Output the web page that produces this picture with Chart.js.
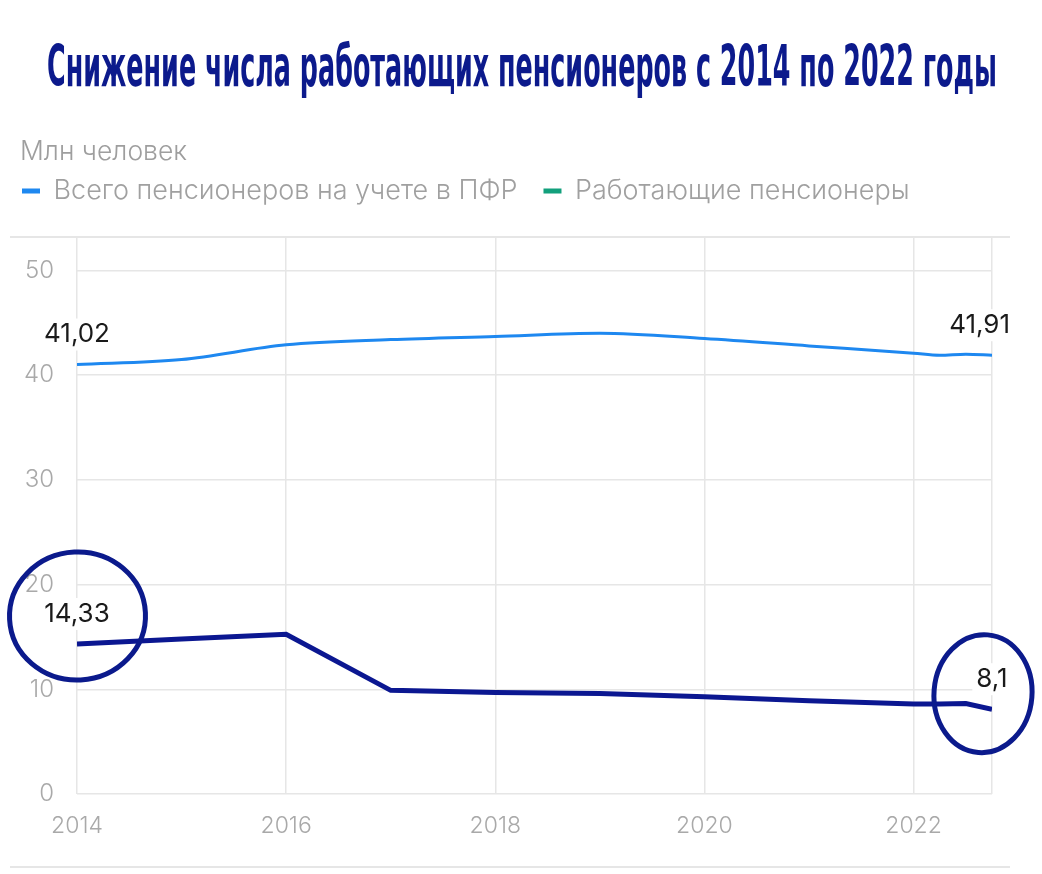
<!DOCTYPE html>
<html lang="ru">
<head>
<meta charset="utf-8">
<script src="https://cdn.jsdelivr.net/npm/chart.js@4.4.1/dist/chart.umd.min.js"></script>
<style>
  html, body { margin: 0; padding: 0; background: #fff; }
  #wrap { position: relative; width: 1042px; height: 874px; overflow: hidden; }
  #title { position: absolute; left: 0; top: 38px; width: 1042px; height: 60px; white-space: nowrap;
    font-family: "Liberation Sans Narrow", "DejaVu Sans Condensed", "Liberation Sans", sans-serif;
    font-weight: bold; font-size: 57px; line-height: 57px; color: #0c1a8c; }
  #title span { position: absolute; left: 522px; top: 0; display: inline-block; transform-origin: center; }
  #unit { position: absolute; left: 20px; top: 135px; font-family: Inter, sans-serif; font-weight: 300;
    font-size: 26.5px; line-height: 30px; color: #9e9e9e; }
  canvas { position: absolute; left: 0; top: 0; }
</style>
</head>
<body>
<div id="wrap">
  <canvas id="myChart" width="1042" height="874"></canvas>
  <div id="title"><span>Снижение числа работающих пенсионеров с 2014 по 2022 годы</span></div>
  <div id="unit">Млн человек</div>
</div>
<script>
// данные
const years = [2014, 2015, 2016, 2017, 2018, 2019, 2020, 2021, 2022, 2022.25, 2022.5, 2022.75];
const allPensioners = [41.02, 41.5, 42.9, 43.4, 43.7, 44.0, 43.5, 42.8, 42.1, 41.9, 42.0, 41.91];
const workingPensioners = [14.33, 14.8, 15.26, 9.9, 9.7, 9.6, 9.3, 8.9, 8.6, 8.6, 8.65, 8.1];
const seriesNames = ['Всего пенсионеров на учете в ПФР', 'Работающие пенсионеры'];
const legendColors = ['#1e88f0', '#12a07c'];
const xTicks = [2014, 2016, 2018, 2020, 2022];
const yTicks = [0, 10, 20, 30, 40, 50];

// растягиваем/сжимаем заголовок до нужной ширины
const t = document.querySelector('#title span');
t.style.transform = 'translateX(-50%) scaleX(' + (950 / t.offsetWidth) + ')';

const grey = '#a9a9a9';

// подписи первой и последней точки
const endLabels = {
  id: 'endLabels',
  afterDatasetsDraw(chart) {
    const ctx = chart.ctx;
    ctx.save();
    ctx.font = '400 26px Inter';
    ctx.textAlign = 'center';
    ctx.textBaseline = 'middle';
    chart.data.datasets.forEach((ds, i) => {
      const pts = chart.getDatasetMeta(i).data;
      [0, pts.length - 1].forEach(j => {
        const p = pts[j];
        const txt = ds.data[j].y.toLocaleString('ru-RU');
        const w = ctx.measureText(txt).width;
        const x = Math.min(p.x, 1010 - w / 2);
        const y = p.y - 30;
        ctx.fillStyle = '#fff';
        ctx.fillRect(x - w / 2 - 4, y - 16, w + 8, 32);
        ctx.fillStyle = '#1a1a1a';
        ctx.fillText(txt, x, y);
      });
    });
    ctx.restore();
  }
};

// разделители сверху и снизу + обведённые кружки
const extras = {
  id: 'extras',
  afterDraw(chart) {
    const ctx = chart.ctx;
    const area = chart.chartArea;
    ctx.save();
    ctx.strokeStyle = '#e6e6e6';
    ctx.lineWidth = 2;
    ctx.beginPath();
    ctx.moveTo(10, area.top); ctx.lineTo(1010, area.top);
    ctx.moveTo(10, chart.height - 7); ctx.lineTo(1010, chart.height - 7);
    ctx.stroke();

    const pts = chart.getDatasetMeta(1).data;
    const a = pts[0], b = pts[pts.length - 1];
    ctx.strokeStyle = '#0b1a8c';
    ctx.lineWidth = 5;
    ctx.beginPath();
    ctx.ellipse(a.x + 0.5, a.y - 28, 68, 64, -0.05, 0, Math.PI * 2);
    ctx.stroke();
    ctx.beginPath();
    ctx.ellipse(b.x - 9, b.y - 15.5, 49, 59, 0.08, 0, Math.PI * 2);
    ctx.stroke();
    ctx.restore();
  }
};

var ctx = document.getElementById('myChart').getContext('2d');
var myChart = new Chart(ctx, {
  type: 'line',
  data: {
    datasets: [{
      label: seriesNames[0],
      data: years.map((x, i) => ({ x: x, y: allPensioners[i] })),
      borderColor: '#1e88f0',
      borderWidth: 3,
      pointRadius: 0,
      cubicInterpolationMode: 'monotone'
    }, {
      label: seriesNames[1],
      data: years.map((x, i) => ({ x: x, y: workingPensioners[i] })),
      borderColor: '#0b1791',
      borderWidth: 5,
      pointRadius: 0,
      tension: 0
    }]
  },
  options: {
    responsive: false,
    animation: false,
    layout: { padding: { top: 151.5, left: -4, right: 50, bottom: 30 } },
    plugins: {
      legend: {
        position: 'top',
        align: 'start',
        labels: {
          boxWidth: 18,
          boxHeight: 5,
          padding: 26,
          color: '#a0a0a0',
          font: { family: 'Inter', size: 27, weight: 300 },
          generateLabels: () => seriesNames.map((n, i) => ({
            text: n, fillStyle: legendColors[i], strokeStyle: legendColors[i],
            lineWidth: 0, hidden: false, datasetIndex: i, fontColor: '#a0a0a0'
          }))
        }
      },
      // пустой отступ между легендой и графиком
      subtitle: {
        display: true, text: '', weight: 500,
        font: { size: 1, lineHeight: 1 },
        padding: { top: 0, bottom: 21.5 }
      },
      tooltip: { enabled: false }
    },
    scales: {
      x: {
        type: 'linear',
        min: years[0],
        max: years[years.length - 1],
        afterBuildTicks: s => { s.ticks = xTicks.concat([years[years.length - 1]]).map(v => ({ value: v })); },
        afterFit: s => { s.height = 50; },
        ticks: {
          autoSkip: false, maxRotation: 0, padding: 18, color: grey,
          font: { family: 'Inter', size: 23, weight: 300 },
          callback: v => xTicks.includes(v) ? String(v) : ''
        },
        grid: { color: '#e6e6e6', lineWidth: 1.5, drawTicks: false },
        border: { display: false }
      },
      y: {
        min: 0,
        max: 53.2,
        afterBuildTicks: s => { s.ticks = yTicks.map(v => ({ value: v })); },
        afterFit: s => { s.width = 81; },
        ticks: {
          padding: 23, color: grey,
          font: { family: 'Inter', size: 24, weight: 300 }
        },
        grid: { color: '#e6e6e6', lineWidth: 1.5, drawTicks: false },
        border: { display: false }
      }
    }
  },
  plugins: [endLabels, extras]
});
</script>
</body>
</html>
